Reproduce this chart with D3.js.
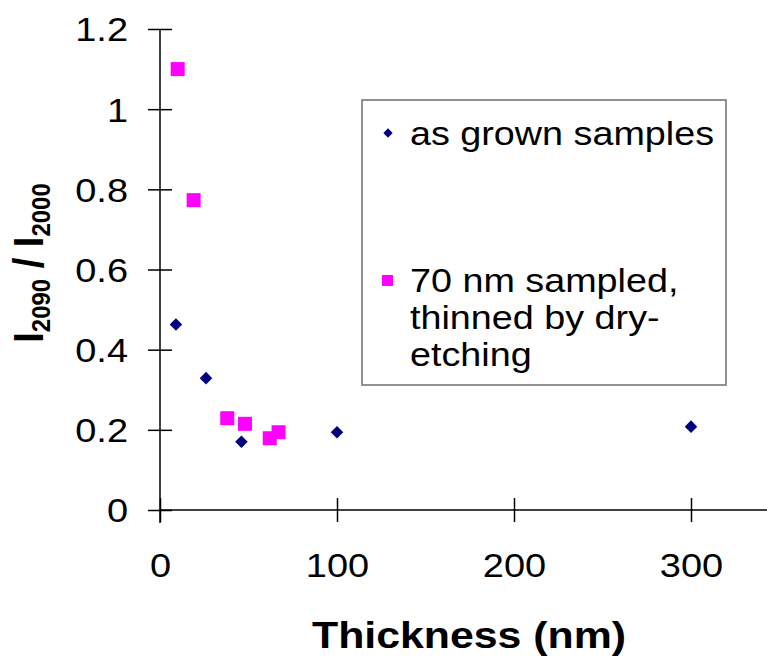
<!DOCTYPE html>
<html lang="en">
<head>
<meta charset="UTF-8">
<title>I2090 / I2000 vs thickness</title>
<script src="https://cdn.jsdelivr.net/npm/d3@7/dist/d3.min.js"></script>
<style>
    body { margin: 0; background: #fff; }
    text { font-family: "Liberation Sans", Arial, sans-serif; fill: #000; }
</style>
</head>
<body>
<script>
    // data
    const grownThickness = [9, 26, 46, 100, 300];
    const grownRatio = [0.463, 0.329, 0.170, 0.194, 0.208];
    const etchedThickness = [10, 19, 38, 48, 62, 67];
    const etchedRatio = [1.10, 0.773, 0.229, 0.215, 0.179, 0.194];
    const xTicks = [0, 100, 200, 300];
    const yTicks = [0, 0.2, 0.4, 0.6, 0.8, 1, 1.2];
    const legendLabels = [["as grown samples"], ["70 nm sampled,", "thinned by dry-", "etching"]];

    const width = 767, height = 657;
    const stretch = 1.15; // the original text looks a bit wide

    const svg = d3.select("body").append("svg")
        .attr("width", width)
        .attr("height", height);

    const x = d3.scaleLinear().domain([0, 300]).range([160, 691]);
    const y = d3.scaleLinear().domain([0, 1.2]).range([510, 29]);

    // x axis
    const xAxis = svg.append("g")
        .attr("transform", `translate(0,${y(0)})`)
        .call(d3.axisBottom(x).tickValues(xTicks).tickSize(12).tickFormat(d3.format("d")));
    xAxis.select(".domain").remove();
    xAxis.append("line")
        .attr("x1", x(0)).attr("x2", width)
        .attr("stroke", "#000").attr("stroke-width", 1.5);
    xAxis.selectAll(".tick line").attr("y1", -12).attr("y2", 12).attr("stroke-width", 1.5);
    xAxis.selectAll(".tick text")
        .attr("y", null).attr("dy", null)
        .attr("transform", `translate(0,67) scale(${stretch},1)`)
        .style("font-size", "33px");

    // y axis
    const yAxis = svg.append("g")
        .attr("transform", `translate(${x(0)},0)`)
        .call(d3.axisLeft(y).tickValues(yTicks).tickSize(12).tickFormat(d3.format("~g")));
    yAxis.select(".domain").remove();
    yAxis.append("line")
        .attr("y1", y(1.2)).attr("y2", y(0) + 13)
        .attr("stroke", "#000").attr("stroke-width", 1.5);
    yAxis.selectAll(".tick line").attr("x1", -12).attr("x2", 12).attr("stroke-width", 1.5);
    yAxis.selectAll(".tick text")
        .attr("x", null).attr("dy", "0.36em")
        .attr("transform", `translate(-32,0) scale(${stretch},1)`)
        .style("font-size", "33px");

    // points
    const diamond = d3.symbol().type(d3.symbolDiamond2);
    svg.selectAll(".grown")
        .data(grownThickness)
        .join("path")
        .attr("class", "grown")
        .attr("d", diamond.size(100)())
        .attr("transform", (d, i) => `translate(${x(d)},${y(grownRatio[i])})`)
        .attr("fill", "#000080");

    svg.selectAll(".etched")
        .data(etchedThickness)
        .join("rect")
        .attr("class", "etched")
        .attr("x", d => x(d) - 7)
        .attr("y", (d, i) => y(etchedRatio[i]) - 7)
        .attr("width", 14).attr("height", 14)
        .attr("fill", "#ff00ff");

    // axis titles
    svg.append("text")
        .attr("transform", "translate(469,648) scale(1.19,1)")
        .attr("text-anchor", "middle")
        .style("font-size", "36px")
        .style("font-weight", "bold")
        .text("Thickness (nm)");

    const yTitle = svg.append("text")
        .attr("transform", `translate(43,263) scale(1.1,1) rotate(-90)`)
        .attr("text-anchor", "middle")
        .style("font-size", "38px")
        .style("font-weight", "bold");
    yTitle.append("tspan").text("I");
    yTitle.append("tspan").attr("dy", 6).style("font-size", "24px").text("2090");
    yTitle.append("tspan").attr("dy", -6).text(" / I");
    yTitle.append("tspan").attr("dy", 6).style("font-size", "24px").text("2000");

    // legend
    const legend = svg.append("g");
    legend.append("rect")
        .attr("x", 362).attr("y", 100)
        .attr("width", 364).attr("height", 285)
        .attr("fill", "none")
        .attr("stroke", "#6e6e6e")
        .attr("stroke-width", 1.5);

    legend.append("path")
        .attr("d", d3.symbol().type(d3.symbolDiamond2).size(55)())
        .attr("transform", "translate(388,133)")
        .attr("fill", "#000080");
    legend.append("rect")
        .attr("x", 382).attr("y", 275)
        .attr("width", 11).attr("height", 11)
        .attr("fill", "#ff00ff");

    const lineStarts = [145, 292];
    legendLabels.forEach((lines, k) => {
        lines.forEach((s, j) => {
            legend.append("text")
                .attr("transform", `translate(410,${lineStarts[k] + j * 37}) scale(1.11,1)`)
                .style("font-size", "34px")
                .text(s);
        });
    });
</script>
</body>
</html>
